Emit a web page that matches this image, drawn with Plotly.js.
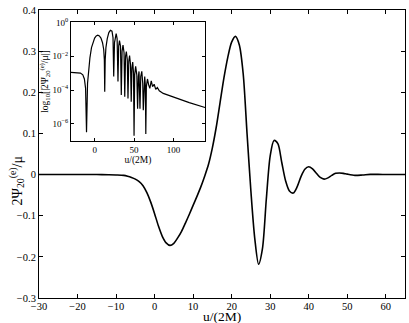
<!DOCTYPE html>
<html>
<head>
<meta charset="utf-8">
<script src="https://cdn.plot.ly/plotly-3.0.1.min.js"></script>
<style>
  html, body { margin: 0; padding: 0; background: #fff; }
  #myPlot { width: 409px; height: 323px; }
</style>
</head>
<body>
<div id="myPlot"></div>
<script>
// Main waveform: 2*Psi_20^(e)/mu against u/(2M)
const u_main = [-30, -25, -20, -15, -12, -10, -8, -7, -6, -5, -4, -3, -2, -1, 0, 1, 2, 3, 4, 5, 6, 7, 8, 9,
  10, 11, 12, 13, 14, 15, 16, 17, 18, 19, 20, 21, 22, 23, 24, 25, 26, 27, 28, 29, 30, 31, 32, 33, 34, 35,
  36, 37, 38, 39, 40, 41, 42, 43, 44, 45, 46, 47, 48, 49, 50, 52, 54, 56, 58, 60, 65];
const psi_main = [0, 0, 0, 0, -0.0005, -0.001, -0.002, -0.004, -0.007, -0.011, -0.017, -0.027, -0.044,
  -0.067, -0.095, -0.125, -0.150, -0.166, -0.172, -0.167, -0.154, -0.138, -0.118, -0.097,
  -0.075, -0.053, -0.030, -0.004, 0.025, 0.065, 0.115, 0.175, 0.235, 0.285, 0.322, 0.336, 0.315, 0.245,
  0.100, -0.040, -0.155, -0.218, -0.180, -0.060, 0.045, 0.083, 0.075, 0.030, -0.015, -0.040,
  -0.045, -0.030, -0.005, 0.013, 0.019, 0.014, 0.003, -0.007, -0.011, -0.008, -0.002, 0.003, 0.004,
  0.003, 0.001, -0.002, -0.001, 0.0005, 0.0005, 0.0002, 0];

// Inset: |2*Psi_20^(e)/mu| on a log scale
const u_inset = [-30, -22, -18, -15, -13, -11.5, -10.3, -9, -7.5, -6, -4, -2, 0, 2, 4, 6, 8, 10, 11.5,
  12.3, 12.8, 13.4, 14.3, 16, 18, 20, 21, 22, 23.3, 24.2, 25.2, 26.3, 27.3, 28.5, 29.6, 30.5, 31.5,
  32.8, 33.8, 34.8, 36, 37.3, 38.2, 39.2, 40.2, 41.4, 42.3, 43.3, 44.3, 45.5, 46.4, 47.3, 48.3, 49.3,
  50, 50.8, 52, 53.5, 54.5, 55.5, 56.3, 57.5, 58.5, 59.8, 61, 61.7, 62.5, 63.5, 64.3, 64.9, 65.6, 67,
  68.5, 70, 71.8, 73.5, 75.5, 77.5, 79.5, 82, 87, 100, 120, 140];
const abs_inset = [1.12e-3, 1.1e-3, 1.0e-3, 7.9e-4, 4.5e-4, 1.26e-4, 3.2e-7, 2.5e-4, 2e-3, 7.9e-3,
  3.2e-2, 7.1e-2, 0.117, 0.158, 0.174, 0.158, 0.117, 0.063, 0.025,
  6.3e-3, 7.9e-5, 6.3e-3, 0.032, 0.11, 0.25, 0.34, 0.336, 0.30, 0.125, 6.3e-4, 0.063, 0.2, 0.218, 0.11,
  3.2e-4, 0.04, 0.083, 0.04, 5e-5, 0.02, 0.045, 0.016, 4e-5, 0.01, 0.019, 6.3e-3, 3.2e-5, 5e-3, 0.011,
  3.2e-3, 2e-5, 2e-3, 4.5e-3, 1e-3, 2e-7, 7.9e-4, 2.5e-3, 7.9e-4, 7.9e-6, 6.3e-4, 1.26e-3, 7.9e-6,
  6.3e-4, 1.26e-3, 2.5e-4, 6.3e-6, 3.2e-4, 6.3e-4, 2e-4, 2.5e-7, 1.6e-4, 4.5e-4, 2e-4, 1.26e-4,
  3.5e-4, 1.6e-4, 2.2e-4, 1.1e-4, 1.4e-4, 8.9e-5, 6.3e-5, 3.8e-5, 1.8e-5, 9.3e-6];

// Tick labels
const main_xticks = [-30, -20, -10, 0, 10, 20, 30, 40, 50, 60];
const main_yticks = [-0.3, -0.2, -0.1, 0, 0.1, 0.2, 0.3, 0.4];
const inset_xticks = [0, 50, 100];
const inset_yticks = [1, 1e-2, 1e-4, 1e-6];
const inset_ytext = ['10<sup>0</sup>', '10<sup>\u22122</sup>', '10<sup>\u22124</sup>', '10<sup>\u22126</sup>'];

const serif = 'Liberation Serif, Times New Roman, serif';

function update_plot() {
  var main = {
    x: u_main,
    y: psi_main,
    mode: 'lines',
    line: {shape: 'spline', smoothing: 0.8, width: 1.6, color: '#000'},
    xaxis: 'x', yaxis: 'y',
    type: 'scatter'
  };

  var inset = {
    x: u_inset,
    y: abs_inset,
    mode: 'lines',
    line: {shape: 'linear', width: 1.2, color: '#000'},
    xaxis: 'x2', yaxis: 'y2',
    type: 'scatter'
  };

  var frame = {
    showline: true, linecolor: '#000', linewidth: 1, mirror: 'ticks',
    ticks: 'inside', ticklen: 4, tickcolor: '#000', tickwidth: 1,
    showgrid: false, zeroline: false
  };

  var layout = {
    width: 409, height: 323,
    margin: {l: 39, r: 4, t: 10, b: 25},
    paper_bgcolor: '#fff', plot_bgcolor: '#fff',
    showlegend: false,
    font: {family: serif, size: 11, color: '#000'},
    xaxis: Object.assign({}, frame, {
      range: [-30, 65],
      tickvals: main_xticks,
      tickfont: {size: 10.5},
      ticklabelstandoff: -2
    }),
    yaxis: Object.assign({}, frame, {
      range: [-0.3, 0.4],
      tickvals: main_yticks,
      tickfont: {size: 10.5}
    }),
    xaxis2: Object.assign({}, frame, {
      domain: [0.0874, 0.4536],
      anchor: 'y2',
      range: [-30, 140],
      ticklen: 3,
      tickvals: inset_xticks,
      tickfont: {size: 9},
      title: {text: 'u/(2M)', font: {size: 9.5}, standoff: 0}
    }),
    yaxis2: Object.assign({}, frame, {
      domain: [0.546, 0.957],
      anchor: 'x2',
      type: 'log',
      range: [-7, 0],
      ticklen: 3,
      tickvals: inset_yticks,
      ticktext: inset_ytext,
      tickfont: {size: 9},
      title: {text: 'log<sub>10</sub>[|2\u03A8<sub>20</sub><sup>(e)</sup>/\u03BC|]', font: {size: 9.5}, standoff: 2}
    }),
    // main axis titles placed as annotations, as in the original figure
    annotations: [
      {
        text: 'u/(2M)', xref: 'paper', yref: 'paper', x: 0.5, y: 0,
        xanchor: 'center', yanchor: 'bottom', yshift: -28, showarrow: false,
        font: {size: 13.5}
      },
      {
        text: '2\u03A8<sub>20</sub><sup>(e)</sup>/\u03BC', xref: 'paper', yref: 'paper',
        x: -0.06, y: 0.405, xanchor: 'center', yanchor: 'middle', textangle: -90,
        showarrow: false, font: {size: 14}
      }
    ]
  };

  const myPlot = document.getElementById('myPlot');
  Plotly.newPlot(myPlot, [main, inset], layout, {staticPlot: true, displayModeBar: false});
}

update_plot();
</script>
</body>
</html>
